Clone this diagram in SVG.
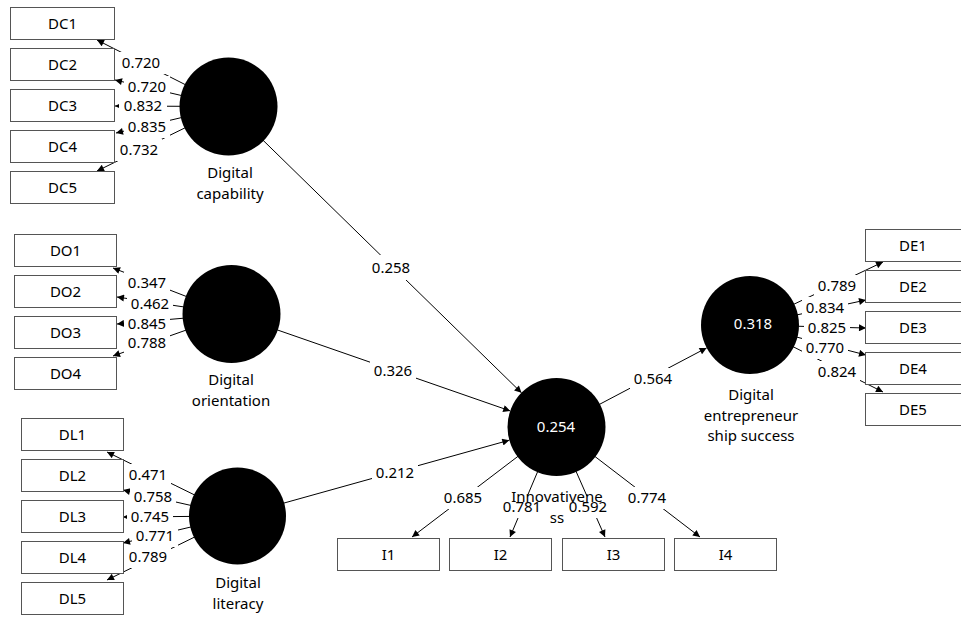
<svg xmlns="http://www.w3.org/2000/svg" width="961" height="617" viewBox="0 0 961 617">
<defs>
<style>
text{font-family:"Noto Sans","Open Sans","DejaVu Sans",sans-serif;font-size:15px;fill:#000;text-anchor:middle}
.box{fill:#fff;stroke:#555;stroke-width:1}
.lv{fill:#000}
.cl{stroke:#000;stroke-width:1;fill:none;marker-end:url(#ah)}
.lb{fill:#fff}
.wt{fill:#fff}
</style>
<marker id="ah" viewBox="0 0 10 10" refX="10" refY="5" markerWidth="8" markerHeight="7" orient="auto" markerUnits="userSpaceOnUse"><path d="M0,0 L10,5 L0,10 z" fill="#000"/></marker>
</defs>
<rect width="961" height="617" fill="#fff"/>
<g id="connectors">
<!-- DC outer -->
<line class="cl" x1="228.5" y1="106.5" x2="97" y2="40"/>
<line class="cl" x1="228.5" y1="106.5" x2="115" y2="80"/>
<line class="cl" x1="228.5" y1="106.5" x2="115" y2="106"/>
<line class="cl" x1="228.5" y1="106.5" x2="116" y2="133"/>
<line class="cl" x1="228.5" y1="106.5" x2="97" y2="171"/>
<!-- DO outer -->
<line class="cl" x1="231.5" y1="314" x2="113" y2="268"/>
<line class="cl" x1="231.5" y1="314" x2="117" y2="297"/>
<line class="cl" x1="231.5" y1="314" x2="117" y2="324"/>
<line class="cl" x1="231.5" y1="314" x2="113" y2="356"/>
<!-- DL outer -->
<line class="cl" x1="237.5" y1="516" x2="107" y2="452"/>
<line class="cl" x1="237.5" y1="516" x2="123" y2="490"/>
<line class="cl" x1="237.5" y1="516" x2="123" y2="517"/>
<line class="cl" x1="237.5" y1="516" x2="123" y2="543"/>
<line class="cl" x1="237.5" y1="516" x2="107" y2="580"/>
<!-- DE outer -->
<line class="cl" x1="750" y1="325" x2="883" y2="262"/>
<line class="cl" x1="750" y1="325" x2="866" y2="300"/>
<line class="cl" x1="750" y1="325" x2="866" y2="328"/>
<line class="cl" x1="750" y1="325" x2="866" y2="355"/>
<line class="cl" x1="750" y1="325" x2="883" y2="392"/>
<!-- Innov outer -->
<line class="cl" x1="556.5" y1="427" x2="412" y2="537"/>
<line class="cl" x1="556.5" y1="427" x2="510" y2="537"/>
<line class="cl" x1="556.5" y1="427" x2="605" y2="537"/>
<line class="cl" x1="556.5" y1="427" x2="700" y2="537"/>
<!-- structural -->
<line class="cl" x1="228.5" y1="106.5" x2="521.5" y2="392.8"/>
<line class="cl" x1="231.5" y1="314" x2="510.2" y2="410.9"/>
<line class="cl" x1="237.5" y1="516" x2="509.3" y2="440.2"/>
<line class="cl" x1="556.5" y1="427" x2="706.6" y2="347.9"/>
<!-- label backgrounds -->
<g class="lb">
<rect x="117" y="52" width="48" height="22"/>
<rect x="124" y="76" width="46" height="22"/>
<rect x="119" y="95" width="48" height="22"/>
<rect x="124" y="116" width="46" height="22"/>
<rect x="116" y="139" width="46" height="22"/>
<rect x="124" y="272" width="46" height="22"/>
<rect x="127" y="293" width="46" height="22"/>
<rect x="124" y="313" width="46" height="22"/>
<rect x="124" y="332" width="46" height="22"/>
<rect x="125" y="464" width="46" height="22"/>
<rect x="130" y="486" width="46" height="22"/>
<rect x="127" y="506" width="46" height="22"/>
<rect x="132" y="525" width="46" height="22"/>
<rect x="125" y="546" width="46" height="22"/>
<rect x="814" y="275" width="46" height="22"/>
<rect x="802" y="297" width="46" height="22"/>
<rect x="804" y="317" width="46" height="22"/>
<rect x="802" y="337" width="46" height="22"/>
<rect x="814" y="361" width="46" height="22"/>
<rect x="440" y="487" width="46" height="22"/>
<rect x="499" y="496" width="46" height="22"/>
<rect x="565" y="496" width="46" height="22"/>
<rect x="624" y="487" width="46" height="22"/>
<rect x="366" y="255" width="50" height="25"/>
<rect x="370" y="360" width="46" height="22"/>
<rect x="372" y="462" width="46" height="22"/>
<rect x="630" y="368" width="46" height="22"/>
</g>
<g>
<text x="141" y="68">0.720</text>
<text x="147" y="92">0.720</text>
<text x="143" y="111">0.832</text>
<text x="147" y="132">0.835</text>
<text x="139" y="155">0.732</text>
<text x="147" y="288">0.347</text>
<text x="150" y="309">0.462</text>
<text x="147" y="329">0.845</text>
<text x="147" y="348">0.788</text>
<text x="148" y="480">0.471</text>
<text x="153" y="502">0.758</text>
<text x="150" y="522">0.745</text>
<text x="155" y="541">0.771</text>
<text x="148" y="562">0.789</text>
<text x="837" y="291">0.789</text>
<text x="825" y="313">0.834</text>
<text x="827" y="333">0.825</text>
<text x="825" y="353">0.770</text>
<text x="837" y="377">0.824</text>
<text x="463" y="503">0.685</text>
<text x="522" y="512">0.781</text>
<text x="588" y="512">0.592</text>
<text x="647" y="503">0.774</text>
<text x="391" y="273">0.258</text>
<text x="393" y="376">0.326</text>
<text x="395" y="478">0.212</text>
<text x="653" y="384">0.564</text>
</g>
</g>
<g id="DC"><circle class="lv" cx="228.5" cy="106.5" r="49"/><text x="230" y="178">Digital</text><text x="230" y="199">capability</text></g>
<g id="DO"><circle class="lv" cx="231.5" cy="314" r="49"/><text x="231" y="385">Digital</text><text x="231" y="406">orientation</text></g>
<g id="DL"><circle class="lv" cx="237.5" cy="516" r="48.5"/><text x="238" y="588">Digital</text><text x="238" y="609">literacy</text></g>
<g id="IN"><circle class="lv" cx="556.5" cy="427" r="49"/><text class="wt" x="556" y="432">0.254</text><text x="557" y="502">Innovativene</text><text x="557" y="523">ss</text></g>
<g id="DE"><circle class="lv" cx="750" cy="325" r="49"/><text class="wt" x="753" y="329">0.318</text><text x="751" y="400">Digital</text><text x="751" y="421">entrepreneur</text><text x="751" y="441">ship success</text></g>
<g id="DC1"><rect class="box" x="10.5" y="7.5" width="104" height="32"/><text x="62.5" y="29">DC1</text></g>
<g id="DC2"><rect class="box" x="10.5" y="48.5" width="104" height="32"/><text x="62.5" y="70">DC2</text></g>
<g id="DC3"><rect class="box" x="10.5" y="89.5" width="104" height="32"/><text x="62.5" y="111">DC3</text></g>
<g id="DC4"><rect class="box" x="10.5" y="130.5" width="104" height="32"/><text x="62.5" y="152">DC4</text></g>
<g id="DC5"><rect class="box" x="10.5" y="171.5" width="104" height="32"/><text x="62.5" y="193">DC5</text></g>
<g id="DO1"><rect class="box" x="14.5" y="234.5" width="102" height="32"/><text x="65.5" y="256">DO1</text></g>
<g id="DO2"><rect class="box" x="14.5" y="275.5" width="102" height="32"/><text x="65.5" y="297">DO2</text></g>
<g id="DO3"><rect class="box" x="14.5" y="316.5" width="102" height="32"/><text x="65.5" y="338">DO3</text></g>
<g id="DO4"><rect class="box" x="14.5" y="357.5" width="102" height="32"/><text x="65.5" y="379">DO4</text></g>
<g id="DL1"><rect class="box" x="21.5" y="418.5" width="102" height="32"/><text x="72.5" y="440">DL1</text></g>
<g id="DL2"><rect class="box" x="21.5" y="459.5" width="102" height="32"/><text x="72.5" y="481">DL2</text></g>
<g id="DL3"><rect class="box" x="21.5" y="500.5" width="102" height="32"/><text x="72.5" y="522">DL3</text></g>
<g id="DL4"><rect class="box" x="21.5" y="541.5" width="102" height="32"/><text x="72.5" y="563">DL4</text></g>
<g id="DL5"><rect class="box" x="21.5" y="582.5" width="102" height="32"/><text x="72.5" y="604">DL5</text></g>
<g id="I1"><rect class="box" x="337.5" y="538.5" width="102" height="32"/><text x="388.5" y="560">I1</text></g>
<g id="I2"><rect class="box" x="449.5" y="538.5" width="102" height="32"/><text x="500.5" y="560">I2</text></g>
<g id="I3"><rect class="box" x="562.5" y="538.5" width="102" height="32"/><text x="613.5" y="560">I3</text></g>
<g id="I4"><rect class="box" x="674.5" y="538.5" width="102" height="32"/><text x="725.5" y="560">I4</text></g>
<g id="DE1"><rect class="box" x="865.5" y="229.5" width="102" height="32"/><text x="913" y="251">DE1</text></g>
<g id="DE2"><rect class="box" x="865.5" y="270.5" width="102" height="32"/><text x="913" y="292">DE2</text></g>
<g id="DE3"><rect class="box" x="865.5" y="311.5" width="102" height="32"/><text x="913" y="333">DE3</text></g>
<g id="DE4"><rect class="box" x="865.5" y="352.5" width="102" height="32"/><text x="913" y="374">DE4</text></g>
<g id="DE5"><rect class="box" x="865.5" y="393.5" width="102" height="32"/><text x="913" y="415">DE5</text></g>
</svg>
